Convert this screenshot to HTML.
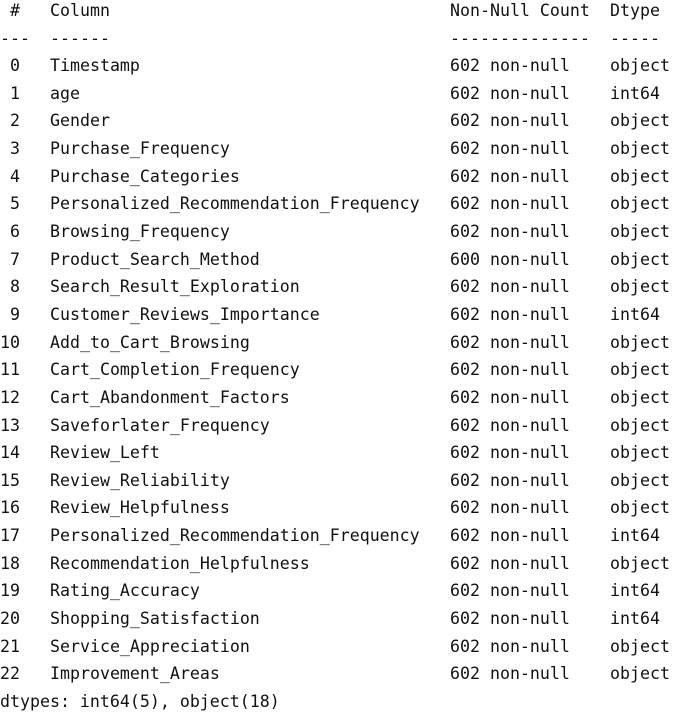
<!DOCTYPE html>
<html><head><style>
html,body{margin:0;padding:0;background:#fff;width:683px;height:717px;overflow:hidden}
body{font-family:"DejaVu Sans Mono","Liberation Mono",monospace;font-size:16.6px;color:#111;position:relative}
.r{position:absolute;left:0;height:27.64px;line-height:27.64px;width:683px;white-space:pre}
.r span{position:absolute;top:0}
.a{left:10px}.b{left:50px}.c{left:450px}.d{left:610px}
</style></head><body>
<div id="c"></div>
<div class="r" style="top:-3px"><span class="a">#</span><span class="b">Column</span><span class="c">Non-Null Count</span><span class="d">Dtype</span></div>
<div class="r" style="top:24.6px"><span style="left:0">---</span><span class="b">------</span><span class="c">--------------</span><span class="d">-----</span></div>
<script>
var rows=[["Timestamp","602","object"],["age","602","int64"],["Gender","602","object"],["Purchase_Frequency","602","object"],["Purchase_Categories","602","object"],["Personalized_Recommendation_Frequency","602","object"],["Browsing_Frequency","602","object"],["Product_Search_Method","600","object"],["Search_Result_Exploration","602","object"],["Customer_Reviews_Importance","602","int64"],["Add_to_Cart_Browsing","602","object"],["Cart_Completion_Frequency","602","object"],["Cart_Abandonment_Factors","602","object"],["Saveforlater_Frequency","602","object"],["Review_Left","602","object"],["Review_Reliability","602","object"],["Review_Helpfulness","602","object"],["Personalized_Recommendation_Frequency","602","int64"],["Recommendation_Helpfulness","602","object"],["Rating_Accuracy","602","int64"],["Shopping_Satisfaction","602","int64"],["Service_Appreciation","602","object"],["Improvement_Areas","602","object"]];
var h="";
for(var i=0;i<rows.length;i++){var t=52.2+i*27.64;var n=i<10?" "+i:""+i;
h+='<div class="r" style="top:'+t+'px"><span style="left:0">'+n+'</span><span class="b">'+rows[i][0]+'</span><span class="c">'+rows[i][1]+' non-null</span><span class="d">'+rows[i][2]+'</span></div>';}
h+='<div class="r" style="top:'+(52.2+23*27.64)+'px"><span style="left:0">dtypes: int64(5), object(18)</span></div>';
document.getElementById("c").innerHTML=h;
</script>
</body></html>
